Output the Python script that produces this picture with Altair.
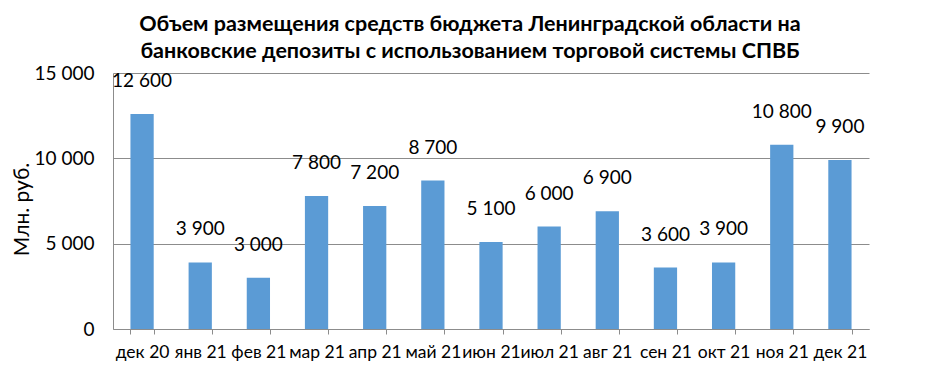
import altair as alt
import pandas as pd

months = ["дек 20", "янв 21", "фев 21", "мар 21", "апр 21", "май 21", "июн 21",
          "июл 21", "авг 21", "сен 21", "окт 21", "ноя 21", "дек 21"]
values = [12600, 3900, 3000, 7800, 7200, 8700, 5100, 6000, 6900, 3600, 3900, 10800, 9900]

df = pd.DataFrame({"month": months, "value": values})
df["label"] = [f"{v:,}".replace(",", " ") for v in values]

FONT = "Lato"
GRID = "#8c8c8c"

base = alt.Chart(df).encode(
    x=alt.X("month:N", sort=months, title=None,
            scale=alt.Scale(paddingInner=0.6, paddingOuter=0.3),
            axis=alt.Axis(labelAngle=0, labelFont=FONT, labelFontSize=17.5,
                          labelColor="#000000", labelPadding=9,
                          domainColor=GRID, tickColor=GRID, tickSize=5,
                          tickBand="extent", grid=False)),
)

bars = base.mark_bar(color="#5b9bd5").encode(
    y=alt.Y("value:Q", title="Млн. руб.",
            scale=alt.Scale(domain=[0, 15000], nice=False),
            axis=alt.Axis(values=[0, 5000, 10000, 15000],
                          labelExpr="replace(format(datum.value, ','), ',', ' ')",
                          labelFont=FONT, labelFontSize=19, labelColor="#000000",
                          labelPadding=19, ticks=False,
                          titleFont=FONT, titleFontSize=21, titleFontWeight="normal",
                          titleColor="#000000", titleAngle=270,
                          titleX=-91, titleY=136, titleAlign="center",
                          titleBaseline="middle",
                          domainColor=GRID, gridColor=GRID, gridWidth=1))
)

labels = base.mark_text(font=FONT, fontSize=19, color="#000000",
                        baseline="middle", dy=-33).encode(
    y=alt.Y("value:Q"),
    text="label:N",
)

chart = (bars + labels).properties(
    width=756, height=256,
    autosize=alt.AutoSizeParams(type="none"),
    padding={"left": 105, "top": 65, "right": 53, "bottom": 36},
    title=alt.TitleParams(
        ["Объем размещения средств бюджета Ленинградской области на",
         "банковские депозиты с использованием торговой системы СПВБ"],
        font=FONT, fontSize=21.5, fontWeight="bold", color="#000000",
        anchor="middle", dx=-21, offset=2, lineHeight=27),
).configure_view(stroke=None)

chart.save("out.html", embed_options={"renderer": "svg", "actions": False})
